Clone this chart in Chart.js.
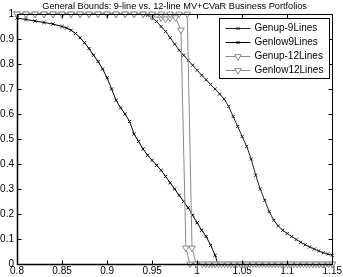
<!DOCTYPE html>
<html><head><meta charset="utf-8">
<script src="https://cdn.jsdelivr.net/npm/chart.js@4/dist/chart.umd.min.js"></script>
<style>html,body{margin:0;padding:0;background:#fff;}canvas{display:block;}</style>
</head><body>
<canvas id="c" width="343" height="277"></canvas>
<script>
const titleText = "General Bounds: 9-line vs. 12-line MV+CVaR Business Portfolios";
const seriesLabels = ["Genup-9Lines", "Genlow9Lines", "Genup-12Lines", "Genlow12Lines"];
const xTicks = [0.8, 0.85, 0.9, 0.95, 1, 1.05, 1.1, 1.15];
const yTicks = [0, 0.1, 0.2, 0.3, 0.4, 0.5, 0.6, 0.7, 0.8, 0.9, 1];

// Genup-9Lines
const up9X = [0.80,0.81,0.82,0.83,0.84,0.85,0.86,0.87,0.88,0.89,0.90,0.91,0.92,0.93,0.94,0.945,0.95,0.955,0.96,0.965,0.97,0.975,0.98,0.985,0.99,0.995,1.0,1.005,1.01,1.015,1.02,1.025,1.03,1.035,1.04,1.045,1.05,1.055,1.06,1.065,1.07,1.075,1.08,1.085,1.09,1.095,1.1,1.105,1.11,1.115,1.12,1.125,1.13,1.135,1.14,1.145,1.15];
const up9Y = [1,1,1,1,1,1,1,1,1,1,1,1,1,1,0.999,0.995,0.985,0.97,0.95,0.93,0.905,0.88,0.855,0.835,0.815,0.795,0.775,0.755,0.737,0.718,0.70,0.68,0.66,0.63,0.59,0.55,0.51,0.47,0.42,0.355,0.30,0.255,0.21,0.175,0.152,0.135,0.122,0.11,0.098,0.087,0.077,0.068,0.06,0.052,0.045,0.04,0.035];

// Genlow9Lines
const low9X = [0.80,0.81,0.82,0.83,0.84,0.85,0.855,0.86,0.865,0.87,0.875,0.88,0.885,0.89,0.895,0.9,0.905,0.91,0.915,0.92,0.925,0.93,0.935,0.94,0.945,0.95,0.955,0.96,0.965,0.97,0.975,0.98,0.985,0.99,0.995,1.0,1.005,1.01,1.015,1.02,1.023,1.03,1.0375,1.045,1.0525,1.06,1.0675,1.075,1.0825,1.09,1.0975,1.105,1.1125,1.12,1.1275,1.135,1.1425,1.15];
const low9Y = [0.984,0.978,0.972,0.966,0.96,0.95,0.944,0.935,0.922,0.905,0.885,0.862,0.835,0.81,0.78,0.745,0.70,0.655,0.625,0.6,0.57,0.52,0.49,0.46,0.435,0.415,0.395,0.375,0.35,0.325,0.30,0.275,0.25,0.225,0.195,0.165,0.135,0.11,0.075,0.035,0,0,0,0,0,0,0,0,0,0,0,0,0,0,0,0,0,0];

// Genup-12Lines
const up12X = [0.80,0.81,0.82,0.83,0.84,0.85,0.86,0.87,0.88,0.89,0.90,0.91,0.92,0.93,0.94,0.95,0.96,0.97,0.98,0.989,0.9943,0.999,1.006,1.013,1.02,1.027,1.034,1.041,1.048,1.055,1.062,1.069,1.076,1.083,1.09,1.097,1.104,1.111,1.118,1.125,1.132,1.139,1.146,1.15];
const up12Y = [1,1,1,1,1,1,1,1,1,1,1,1,1,1,1,1,1,1,1,1,0.064,0,0,0,0,0,0,0,0,0,0,0,0,0,0,0,0,0,0,0,0,0,0,0];

// Genlow12Lines
const low12X = [0.80,0.81,0.82,0.83,0.84,0.85,0.86,0.87,0.88,0.89,0.90,0.91,0.92,0.93,0.94,0.95,0.96,0.965,0.97,0.976,0.982,0.9875,0.992,0.9995,1.0095,1.0165,1.0235,1.0305,1.0375,1.0445,1.0515,1.0585,1.0655,1.0725,1.0795,1.0865,1.0935,1.1005,1.1075,1.1145,1.1215,1.1285,1.1355,1.1425,1.15];
const low12Y = [1,1,1,1,1,1,1,1,1,1,1,1,1,1,1,0.99,0.985,0.98,0.985,0.985,0.936,0.064,0,0,0,0,0,0,0,0,0,0,0,0,0,0,0,0,0,0,0,0,0,0,0];

const toPts = (xs, ys) => xs.map((x, i) => ({x: x, y: ys[i]}));
const GRAY = '#8a8a8a';
const FONT = '"Liberation Sans", Arial, sans-serif';
const fmt = v => String(Number(Number(v).toFixed(3)));

function ds(label, xs, ys, color, style, r, rot) {
  return {
    label: label, data: toPts(xs, ys), showLine: true, borderColor: color, borderWidth: 1,
    pointStyle: style, pointRadius: r, pointHoverRadius: r, pointRotation: rot,
    pointBorderColor: color, pointBackgroundColor: style === 'triangle' ? '#fff' : color,
    pointBorderWidth: 1, tension: 0, clip: false, fill: false
  };
}

const datasets = [
  ds(seriesLabels[2], up12X, up12Y, GRAY, 'triangle', 3.8, 180),
  ds(seriesLabels[3], low12X, low12Y, GRAY, 'triangle', 3.8, 180),
  ds(seriesLabels[0], up9X, up9Y, '#222', 'crossRot', 2.2, 0),
  ds(seriesLabels[1], low9X, low9Y, '#000', 'crossRot', 2.2, 0)
];

const matlabPlugin = {
  id: 'matlab',
  afterDatasetsDraw(chart) {
    const ctx = chart.ctx, a = chart.chartArea;
    const xs = chart.scales.x, ys = chart.scales.y;
    ctx.save();
    ctx.strokeStyle = '#000';
    ctx.lineWidth = 1;
    const L = Math.round(a.left) + 0.5, R = Math.round(a.right) + 0.5;
    const T = Math.round(a.top) + 0.5, B = Math.round(a.bottom) + 0.5;
    ctx.strokeRect(L, T, R - L, B - T);
    const tl = 4;
    ctx.beginPath();
    xTicks.forEach(v => {
      const px = Math.round(xs.getPixelForValue(v)) + 0.5;
      ctx.moveTo(px, B); ctx.lineTo(px, B - tl);
      ctx.moveTo(px, T); ctx.lineTo(px, T + tl);
    });
    yTicks.forEach(v => {
      const py = Math.round(ys.getPixelForValue(v)) + 0.5;
      ctx.moveTo(L, py); ctx.lineTo(L + tl, py);
      ctx.moveTo(R, py); ctx.lineTo(R - tl, py);
    });
    ctx.stroke();
    ctx.lineWidth = 1.5;
    ctx.beginPath();
    ctx.moveTo(L, T); ctx.lineTo(L, B); ctx.lineTo(R, B);
    ctx.stroke();

    // title
    ctx.fillStyle = '#000';
    ctx.font = '9.2px ' + FONT;
    ctx.textAlign = 'center';
    ctx.textBaseline = 'middle';
    ctx.fillText(titleText, (a.left + a.right) / 2, 6);

    // legend
    const bx = Math.round(a.right) - 112.5, by = Math.round(a.top) + 4.5, bw = 110, bh = 60;
    ctx.fillStyle = '#fff';
    ctx.fillRect(bx, by, bw, bh);
    ctx.lineWidth = 1;
    ctx.strokeStyle = '#000';
    ctx.strokeRect(bx, by, bw, bh);
    const order = [2, 3, 0, 1];
    order.forEach((di, i) => {
      const d = chart.data.datasets[di];
      const yy = Math.round(by + 9 + i * 14.3) + 0.5;
      ctx.strokeStyle = d.borderColor;
      ctx.lineWidth = 1;
      ctx.beginPath();
      ctx.moveTo(bx + 6, yy); ctx.lineTo(bx + 31, yy);
      ctx.stroke();
      ctx.strokeStyle = d.pointBorderColor;
      ctx.fillStyle = d.pointBackgroundColor;
      Chart.helpers.drawPoint(ctx, {pointStyle: d.pointStyle, radius: d.pointRadius, rotation: d.pointRotation, borderWidth: 1}, bx + 18.5, yy);
      ctx.fillStyle = '#000';
      ctx.font = '10px ' + FONT;
      ctx.textAlign = 'left';
      ctx.textBaseline = 'middle';
      ctx.fillText(d.label, bx + 35, yy);
    });
    ctx.restore();
  }
};

new Chart(document.getElementById('c'), {
  type: 'scatter',
  data: { datasets: datasets },
  options: {
    responsive: false, animation: false, devicePixelRatio: 1,
    layout: { padding: { top: 14, right: 9, left: 0, bottom: 0 } },
    plugins: { legend: { display: false }, title: { display: false }, tooltip: { enabled: false } },
    scales: {
      x: {
        type: 'linear', min: 0.8, max: 1.15,
        afterFit: s => { s.height = 13; },
        afterBuildTicks: s => { s.ticks = xTicks.map(v => ({value: v})); },
        grid: { display: false, drawTicks: false },
        border: { display: false },
        ticks: { padding: 1, autoSkip: false, maxRotation: 0, color: '#000', font: { family: FONT, size: 10 }, callback: v => fmt(v) }
      },
      y: {
        type: 'linear', min: 0, max: 1,
        afterFit: s => { s.width = 17; },
        afterBuildTicks: s => { s.ticks = yTicks.map(v => ({value: v})); },
        grid: { display: false, drawTicks: false },
        border: { display: false },
        ticks: { padding: 3, autoSkip: false, color: '#000', font: { family: FONT, size: 10 }, callback: v => fmt(v) }
      }
    }
  },
  plugins: [matlabPlugin]
});
</script>
</body></html>
